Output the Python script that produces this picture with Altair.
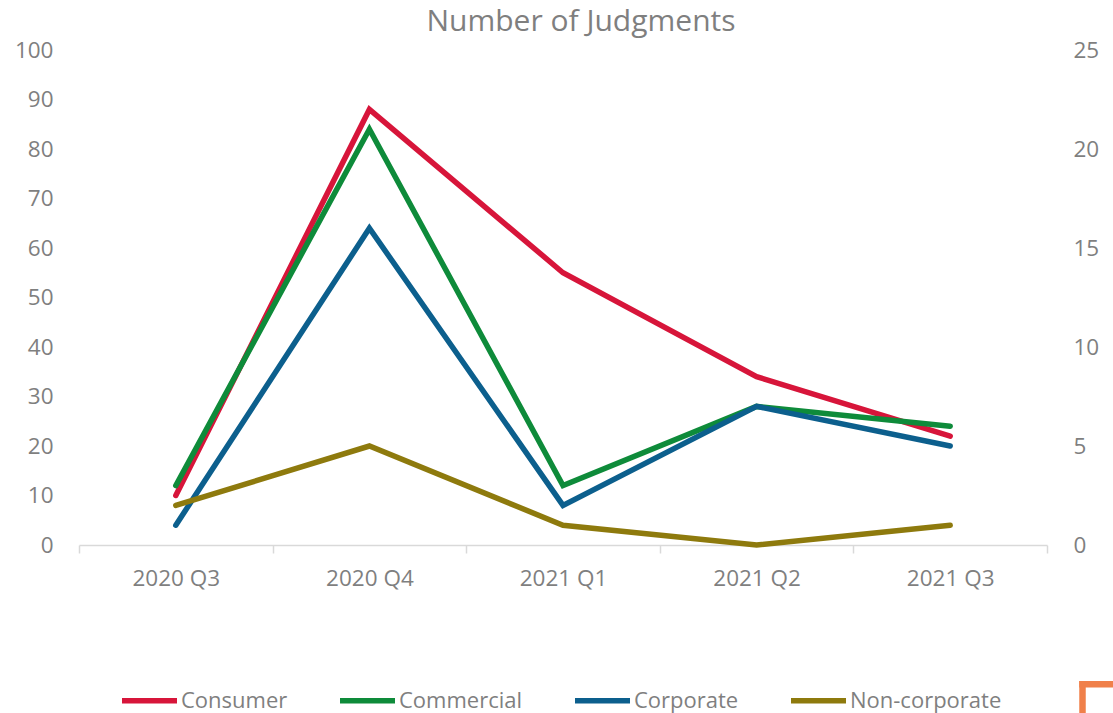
import altair as alt
import pandas as pd

# Quarterly judgment counts
quarters = ["2020 Q3", "2020 Q4", "2021 Q1", "2021 Q2", "2021 Q3"]
series_order = ["Consumer", "Commercial", "Corporate", "Non-corporate"]
series_colors = ["#D7153A", "#0E8B3A", "#0C5F8D", "#8E7A0D"]

# Primary axis (0-100)
consumer = [10, 88, 55, 34, 22]
# Secondary axis (0-25)
commercial = [3, 21, 3, 7, 6]
corporate = [1, 16, 2, 7, 5]
non_corporate = [2, 5, 1, 0, 1]

rows = []
for name, vals in [("Consumer", consumer), ("Commercial", commercial),
                   ("Corporate", corporate), ("Non-corporate", non_corporate)]:
    for q, v in zip(quarters, vals):
        rows.append({"Quarter": q, "Series": name, "Value": v})
df = pd.DataFrame(rows)

FONT = "Open Sans"
GREY = "#7F7F7F"
LINE_W = 5.5
ACCENT = "#F0804A"

x_enc = alt.X(
    "Quarter:N",
    sort=quarters,
    bandPosition=0.5,
    scale=alt.Scale(type="band", paddingInner=0, paddingOuter=0),
    axis=alt.Axis(
        title=None, labelAngle=0, tickBand="extent", ticks=True, tickSize=8,
        tickColor="#D9D9D9", domainColor="#D9D9D9", domainWidth=1.5, tickWidth=1.5,
        labelPadding=14, labelFontSize=22.5, labelColor=GREY, labelFont=FONT, grid=False,
    ),
)

color_enc = alt.Color(
    "Series:N",
    sort=series_order,
    scale=alt.Scale(domain=series_order, range=series_colors),
    legend=alt.Legend(
        title=None, orient="none", direction="horizontal", legendX=40, legendY=620,
        symbolType="stroke", symbolSize=3025, symbolStrokeWidth=LINE_W,
        labelFontSize=22, labelColor=GREY, labelFont=FONT, labelOffset=1,
        columnPadding=41, labelLimit=300,
    ),
)

base = alt.Chart(df).encode(x=x_enc, color=color_enc)

left = base.transform_filter(alt.datum.Series == "Consumer").mark_line(
    strokeWidth=LINE_W, strokeCap="round", strokeJoin="miter"
).encode(
    y=alt.Y(
        "Value:Q",
        scale=alt.Scale(domain=[0, 100], nice=False),
        axis=alt.Axis(
            title=None, orient="left", values=list(range(0, 101, 10)), domain=False,
            ticks=False, grid=False, labelPadding=26, labelFontSize=22.5,
            labelColor=GREY, labelFont=FONT,
        ),
    )
)

right = base.transform_filter(alt.datum.Series != "Consumer").mark_line(
    strokeWidth=LINE_W, strokeCap="round", strokeJoin="miter"
).encode(
    y=alt.Y(
        "Value:Q",
        scale=alt.Scale(domain=[0, 25], nice=False),
        axis=alt.Axis(
            title=None, orient="right", values=[0, 5, 10, 15, 20, 25], domain=False,
            ticks=False, grid=False, labelPadding=26, labelFontSize=22.5,
            labelColor=GREY, labelFont=FONT,
        ),
    )
)

# Small orange corner bracket in the lower-right margin
corner_src = alt.Chart(pd.DataFrame({"k": [0]}))
corner_v = corner_src.mark_rule(color=ACCENT, strokeWidth=6.5, strokeCap="butt").encode(
    x=alt.value(1003.5), y=alt.value(631), y2=alt.value(666)
)
corner_h = corner_src.mark_rule(color=ACCENT, strokeWidth=6.5, strokeCap="butt").encode(
    x=alt.value(1000.25), x2=alt.value(1040), y=alt.value(634.25)
)

chart = (
    alt.layer(left, right, corner_v, corner_h)
    .resolve_scale(y="independent")
    .properties(
        width=968,
        height=495,
        title=alt.TitleParams(
            "Number of Judgments", fontSize=30, font=FONT, color=GREY,
            fontWeight="normal", anchor="middle", dx=18, offset=2,
        ),
        autosize=alt.AutoSizeParams(type="none"),
        padding={"left": 79, "top": 50, "right": 66, "bottom": 168},
        background="white",
    )
    .configure_view(stroke=None)
)

chart.save("out.html", embed_options={"renderer": "svg", "actions": False})
